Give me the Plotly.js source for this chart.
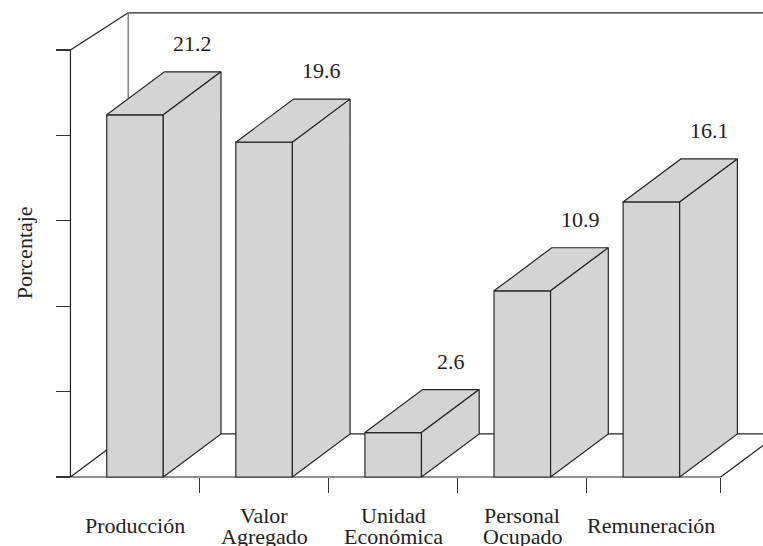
<!DOCTYPE html>
<html>
<head>
<meta charset="utf-8">
<script src="https://cdn.plot.ly/plotly-3.0.1.min.js"></script>
<style>html,body{margin:0;padding:0;background:#fff;}#chart{width:763px;height:546px;}</style>
</head>
<body>
<div id="chart"></div>
<script>
// ---- data ----
const categories = ["Producción", "Valor Agregado", "Unidad Económica", "Personal Ocupado", "Remuneración"];
const values = [21.2, 19.6, 2.6, 10.9, 16.1];
const yTickVals = [0, 5, 10, 15, 20, 25];
const yTitle = "Porcentaje";

// ---- style / geometry constants ----
const FILL = "#d4d4d4";
const EDGE = "#262626";
const FONT = "'Liberation Serif', 'Times New Roman', serif";
const HW = 0.219;     // half bar width (category units)
const DX = 0.447;     // depth offset in category units
const DY = 2.52;      // depth offset in value units
const LEFT = -0.5;
const FLOOR_RIGHT = 4.537;
const WALL_TOP = 27.17;
const AXIS_TOP = yTickVals[yTickVals.length - 1];
const XR = [-0.581, 4.8644];
const YR = [-0.1756, 27.63];

const idx = categories.map((_, i) => i);

const traces = [];
traces.push({
  type: "bar", x: idx, y: values, width: 2 * HW,
  marker: {color: FILL, line: {color: EDGE, width: 1.2}},
  hoverinfo: "skip", showlegend: false
});
values.forEach((v, i) => {
  // top face
  traces.push({
    type: "scatter", mode: "lines", fill: "toself", fillcolor: FILL,
    x: [i - HW, i + HW, i + HW + DX, i - HW + DX, i - HW],
    y: [v, v, v + DY, v + DY, v],
    line: {color: EDGE, width: 1.2}, hoverinfo: "skip", showlegend: false
  });
  // side face
  traces.push({
    type: "scatter", mode: "lines", fill: "toself", fillcolor: FILL,
    x: [i + HW, i + HW + DX, i + HW + DX, i + HW, i + HW],
    y: [0, DY, v + DY, v, 0],
    line: {color: EDGE, width: 1.2}, hoverinfo: "skip", showlegend: false
  });
});

function ln(x0, y0, x1, y1, color, w) {
  return {type: "line", xref: "x", yref: "y", x0, y0, x1, y1, layer: "below",
          line: {color: color || "#222", width: w || 1.2}};
}
const shapes = [
  ln(LEFT, 0, LEFT, AXIS_TOP),
  ln(LEFT, AXIS_TOP, LEFT + DX, WALL_TOP),
  ln(LEFT + DX, WALL_TOP, XR[1] + 1, WALL_TOP),
  ln(LEFT + DX, DY, LEFT + DX, WALL_TOP, "#666", 1.2),
  ln(LEFT, 0, FLOOR_RIGHT, 0),
  ln(LEFT, 0, LEFT + DX, DY),
  ln(LEFT + DX, DY, XR[1] + 1, DY),
  ln(FLOOR_RIGHT, 0, FLOOR_RIGHT + DX, DY)
];

const annotations = [];
values.forEach((v, i) => {
  annotations.push({
    x: i + DX, y: v + DY, xref: "x", yref: "y", text: v.toFixed(1),
    showarrow: false, xanchor: "center", yanchor: "bottom", yshift: 14,
    font: {family: FONT, size: 22, color: "#222"}
  });
});
categories.forEach((c, i) => {
  const parts = c.split(" ");
  const shifts = parts.length === 1 ? [-45.6] : [-35.3, -56.8];
  parts.forEach((p, k) => {
    annotations.push({
      x: i, y: 0, xref: "x", yref: "paper", text: p, showarrow: false,
      xanchor: "center", yanchor: "middle", yshift: shifts[k],
      font: {family: FONT, size: 22, color: "#222"}
    });
  });
});
annotations.push({
  x: -36 / 703, xref: "paper", y: 13.1, yref: "y", text: yTitle, textangle: -90,
  showarrow: false, xanchor: "center", yanchor: "middle",
  font: {family: FONT, size: 22, color: "#222"}
});

const boundaries = idx.slice(1).map(i => i - 0.5).concat([FLOOR_RIGHT]);

const layout = {
  width: 763, height: 546,
  margin: {l: 60, r: 0, t: 5, b: 66, pad: 0},
  paper_bgcolor: "#fff", plot_bgcolor: "rgba(0,0,0,0)",
  showlegend: false,
  xaxis: {
    range: XR, anchor: "free", position: 3 / 475,
    showgrid: false, zeroline: false, showline: false,
    tickmode: "array", tickvals: boundaries, ticktext: boundaries.map(() => ""),
    ticks: "outside", ticklen: 15, tickwidth: 1.2, tickcolor: "#333",
    fixedrange: true
  },
  yaxis: {
    range: YR, anchor: "free", position: (LEFT - XR[0]) / (XR[1] - XR[0]),
    showgrid: false, zeroline: false, showline: false,
    tickmode: "array", tickvals: yTickVals, showticklabels: false,
    ticks: "outside", ticklen: 14, tickwidth: 1.2, tickcolor: "#333",
    fixedrange: true
  },
  shapes: shapes,
  annotations: annotations
};

Plotly.newPlot("chart", traces, layout, {displayModeBar: false, staticPlot: true});
</script>
</body>
</html>
